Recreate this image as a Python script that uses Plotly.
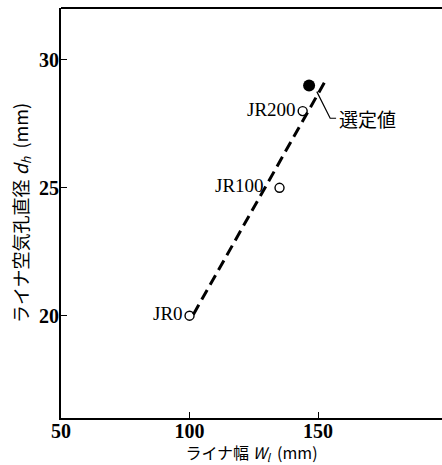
import plotly.graph_objects as go

# data
grade_labels = ["JR0", "JR100", "JR200"]
liner_width = [100, 135, 144]
hole_diam = [20, 25, 28]
label_shift = [-5, -14, -5]
selected_x = [146.5]
selected_y = [29]
trend_x = [101.5, 153.5]
trend_y = [20.05, 29.3]
leader_x = [149.5, 154.7, 157.0]
leader_y = [28.76, 27.72, 27.72]
selected_label = "選定値"
x_ticks = [50, 100, 150]
y_ticks = [20, 25, 30]

serif = "Liberation Serif, Times New Roman, serif"
jp = "Noto Sans CJK JP, sans-serif"

fig = go.Figure()
fig.add_trace(go.Scatter(x=trend_x, y=trend_y, mode="lines",
                         line=dict(color="black", width=3, dash="11px,6px"),
                         hoverinfo="skip"))
fig.add_trace(go.Scatter(x=leader_x, y=leader_y, mode="lines",
                         line=dict(color="black", width=1.2), hoverinfo="skip"))
fig.add_trace(go.Scatter(x=liner_width, y=hole_diam, mode="markers",
                         marker=dict(symbol="circle-open", size=9, color="black",
                                     line=dict(width=1.4, color="black"))))
fig.add_trace(go.Scatter(x=selected_x, y=selected_y, mode="markers",
                         marker=dict(symbol="circle", size=12, color="black")))

for lab, xv, yv, sh in zip(grade_labels, liner_width, hole_diam, label_shift):
    fig.add_annotation(x=xv, y=yv, text=lab, showarrow=False, xanchor="right",
                       yanchor="middle", xshift=sh, yshift=2,
                       font=dict(family=serif, size=19, color="black"))
fig.add_annotation(x=leader_x[-1], y=leader_y[-1], text=selected_label, showarrow=False,
                   xanchor="left", yanchor="middle", xshift=1,
                   font=dict(family=jp, size=19, color="black"))

# top frame line (no right border in the reference)
fig.add_shape(type="line", xref="paper", yref="paper", x0=0, x1=1, y0=1, y1=1,
              line=dict(color="black", width=2))

fig.update_layout(
    width=442, height=465,
    margin=dict(l=61, r=0, t=8, b=47),
    paper_bgcolor="white", plot_bgcolor="white",
    showlegend=False,
    xaxis=dict(range=[50, 198.2], tickvals=x_ticks, ticks="inside", ticklen=6,
               tickwidth=1.2, tickcolor="black", showline=True, mirror=False,
               linecolor="black", linewidth=2, showgrid=False, zeroline=False,
               ticklabelstandoff=-6,
               tickfont=dict(family=serif, size=20, color="black", weight="bold"),
               title=dict(text="ライナ幅 <i>W<sub>l</sub></i>  (mm)", standoff=4,
                          font=dict(family=jp, size=16, color="black"))),
    yaxis=dict(range=[16.0, 32.03], tickvals=y_ticks, ticks="inside", ticklen=6,
               tickwidth=1.2, tickcolor="black", showline=True, mirror=False,
               linecolor="black", linewidth=2, showgrid=False, zeroline=False,
               ticklabelstandoff=-4,
               tickfont=dict(family=serif, size=20, color="black", weight="bold"),
               title=dict(text="ライナ空気孔直径 <i>d<sub>h</sub></i>  (mm)", standoff=6,
                          font=dict(family=jp, size=18, color="black"))),
)

fig.write_html("out.html")
